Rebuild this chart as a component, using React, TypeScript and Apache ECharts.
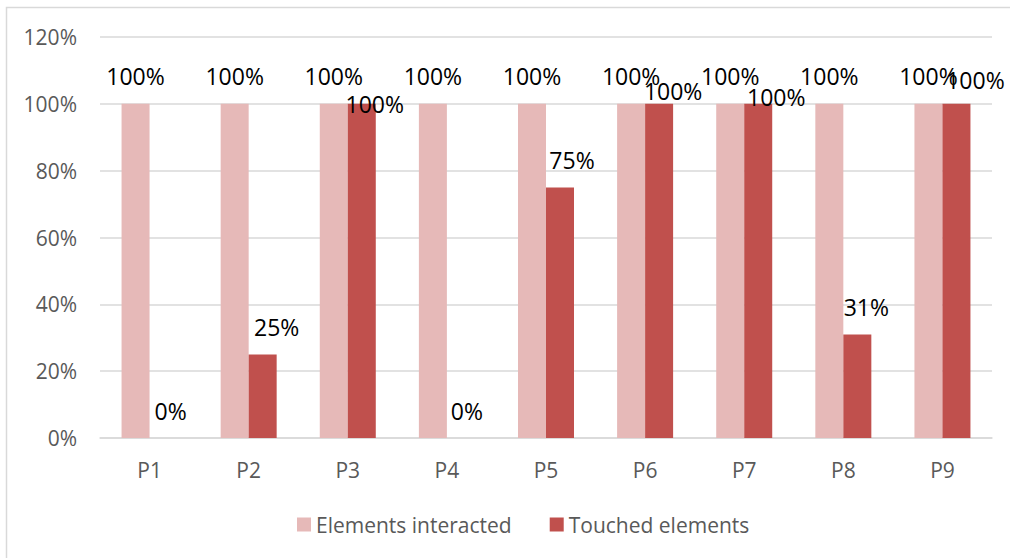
import React, { useEffect, useRef } from "react";
import * as echarts from "echarts";

const categories = ["P1", "P2", "P3", "P4", "P5", "P6", "P7", "P8", "P9"];
const elementsInteracted = [1, 1, 1, 1, 1, 1, 1, 1, 1];
const touchedElements = [0, 0.25, 1, 0, 0.75, 1, 1, 0.31, 1];
const seriesNames = ["Elements interacted", "Touched elements"];
// label placement tweaks (pixels) for the second series' data labels
const touchedLabelOffsets: [number, number][] = [
  [7, 0], [14, 0], [13, 28], [6, 0], [12, 0], [14, 15], [18, 21], [9, 0], [19, 4],
];

const FONT = "'Open Sans', 'Liberation Sans', sans-serif";
const pct = (v: number) => `${Math.round(v * 100)}%`;

export default function App() {
  const ref = useRef<HTMLDivElement>(null);
  useEffect(() => {
    if (!ref.current) return;
    const chart = echarts.init(ref.current, undefined, { renderer: "svg" });
    const labelBase = {
      show: true,
      position: "top" as const,
      distance: 16,
      color: "#000000",
      fontSize: 23,
      fontFamily: FONT,
      formatter: (p: any) => pct(p.value),
    };
    chart.setOption({
      animation: false,
      textStyle: { fontFamily: FONT },
      graphic: [
        {
          type: "rect",
          shape: { x: 6.5, y: 7.5, width: 1100, height: 700 },
          style: { fill: "none", stroke: "#D9D9D9", lineWidth: 1.5 },
          silent: true,
        },
      ],
      grid: { left: 100, right: 18, top: 37, bottom: 120, containLabel: false },
      legend: {
        left: 292,
        top: 509,
        itemWidth: 14,
        itemHeight: 14,
        itemGap: 38,
        icon: "rect",
        textStyle: { color: "#595959", fontSize: 21, fontFamily: FONT },
        data: seriesNames,
      },
      xAxis: {
        type: "category",
        data: categories,
        axisLine: { lineStyle: { color: "#D9D9D9", width: 1.5 } },
        axisTick: { show: false },
        axisLabel: { color: "#595959", fontSize: 21, fontFamily: FONT, margin: 21 },
      },
      yAxis: {
        type: "value",
        min: 0,
        max: 1.2,
        interval: 0.2,
        axisLine: { show: false },
        axisTick: { show: false },
        splitLine: { lineStyle: { color: "#D9D9D9", width: 1.5 } },
        axisLabel: {
          color: "#595959",
          fontSize: 21,
          fontFamily: FONT,
          margin: 23,
          formatter: (v: number) => pct(v),
        },
      },
      series: [
        {
          name: seriesNames[0],
          type: "bar",
          data: elementsInteracted,
          barWidth: 28,
          barGap: "0%",
          itemStyle: { color: "#E6B9B8" },
          label: labelBase,
        },
        {
          name: seriesNames[1],
          type: "bar",
          barWidth: 28,
          barGap: "0%",
          itemStyle: { color: "#C0504D" },
          label: labelBase,
          data: touchedElements.map((v, i) => ({
            value: v,
            label: { offset: touchedLabelOffsets[i] },
          })),
        },
      ],
    });
    return () => chart.dispose();
  }, []);
  return (
    <div
      ref={ref}
      style={{ position: "absolute", left: 0, top: 0, width: 1010, height: 558, background: "#fff" }}
    />
  );
}
